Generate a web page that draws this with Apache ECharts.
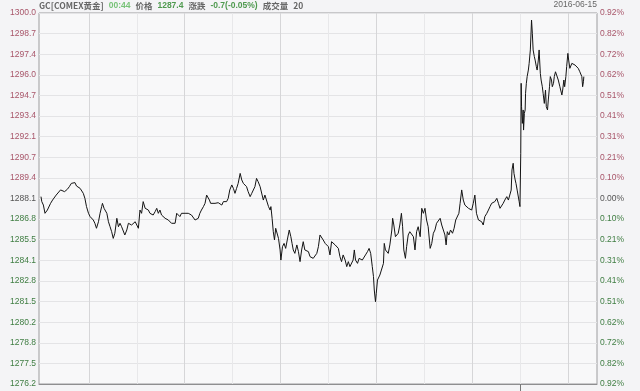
<!DOCTYPE html>
<html><head><meta charset="utf-8">
<script src="https://cdn.jsdelivr.net/npm/echarts@6/dist/echarts.min.js"></script>
<style>html,body{margin:0;padding:0;background:#f4f4f6;}#c{width:640px;height:391px;}</style>
</head><body><div id="c"></div>
<script>
// minutes since session open (06:00)
const times = [0,2,6,10,13,16,21,24,29,33,38,43,49,54,59,63,66,71,76,81,85,89,94,98,102,106,110,114,119,123,128,131,135,139,144,148,152,154,158,161,165,169,173,177,181,185,190,194,198,202,206,210,215,219,223,227,231,236,240,244,248,252,256,261,265,269,273,277,281,286,290,294,298,302,306,311,315,319,323,327,332,336,340,344,348,352,357,361,365,369,373,377,382,386,390,394,398,402,407,411,415,418,422,425,430,436,440,444,448,453,457,461,465,469,473,478,482,486,490,494,499,503,507,511,515,519,524,528,532,536,540,544,549,553,557,561,565,570,574,576,579,582,585,588,592,595,599,601,605,609,613,617,622,626,629,632,636,641,645,649,653,657,661,666,670,674,678,682,686,691,695,699,703,707,712,716,720,724,728,732,737,741,745,749,753,757,762,766,770,774,778,782,785,788,793,797,801,805,809,813,818,822,826,830,833,835,838,840,843,846,849,853,858,860,863,866,870,874,879,881,884,888,891,895,899,903,906,909,913,916,920,924,929,933,937,941,945,950,954,958,962,966,970,975,979,983,987,991,995,1000,1004,1008,1012,1015,1018,1022,1026,1031,1035,1039,1043,1047,1050,1054,1058,1062,1066,1071,1075,1079,1083,1087,1091,1096,1100,1104,1108,1112,1117,1121,1125,1129,1133,1137,1142,1146,1150,1154,1158,1162,1167,1171,1175,1178,1180,1183,1185,1188,1190,1193,1197,1198,1200,1202,1203,1204,1206,1208,1209,1211,1213,1214,1216,1218,1221,1223,1226,1228,1229,1231,1233,1236,1238,1241,1243,1246,1248,1251,1253,1256,1258,1261,1264,1266,1269,1271,1274,1276,1279,1281,1284,1286,1289,1292,1296,1300,1305,1307,1310,1312,1315,1317,1320,1322,1325,1330,1334,1338,1342,1346,1350,1355,1357,1359,1360];
const prices = [1288.22,1287.90,1287.68,1287.15,1287.04,1287.36,1287.47,1287.79,1288.00,1288.11,1288.32,1288.43,1288.65,1288.75,1288.54,1288.43,1288.69,1288.86,1289.07,1289.03,1289.12,1288.90,1288.86,1288.75,1288.65,1288.43,1288.11,1287.58,1287.15,1286.94,1286.83,1286.72,1286.51,1286.19,1286.61,1287.15,1287.58,1287.79,1287.47,1287.58,1287.15,1286.61,1286.29,1285.97,1285.54,1285.87,1286.83,1286.29,1286.51,1286.29,1286.19,1285.76,1286.08,1286.51,1286.61,1286.40,1286.29,1286.61,1286.40,1286.19,1287.36,1287.15,1287.90,1287.47,1287.58,1287.36,1287.15,1287.26,1287.04,1287.26,1287.47,1287.15,1287.36,1287.04,1286.94,1286.83,1286.76,1286.72,1286.61,1286.51,1286.40,1286.51,1287.15,1287.26,1286.94,1287.15,1287.04,1287.15,1287.26,1287.15,1287.19,1287.04,1286.94,1286.72,1286.61,1286.83,1287.15,1287.36,1287.58,1287.79,1288.32,1288.43,1288.00,1287.79,1287.90,1287.79,1287.90,1287.83,1287.79,1287.68,1287.90,1288.00,1287.90,1288.11,1288.65,1288.97,1288.75,1288.43,1288.75,1289.07,1289.71,1289.29,1289.07,1289.18,1288.86,1288.54,1288.22,1288.43,1288.54,1288.86,1289.39,1289.18,1288.86,1288.75,1288.00,1288.32,1288.22,1287.58,1287.36,1287.58,1286.83,1285.97,1285.44,1286.19,1286.08,1285.54,1284.80,1284.15,1285.01,1285.22,1284.90,1285.44,1286.08,1285.65,1285.22,1284.80,1284.58,1285.12,1284.69,1284.05,1284.80,1285.33,1284.80,1284.90,1284.69,1284.37,1284.48,1284.26,1284.37,1284.58,1285.01,1285.76,1285.65,1285.44,1285.22,1285.33,1285.01,1284.48,1285.33,1285.22,1285.12,1285.12,1284.90,1284.37,1284.05,1284.48,1284.15,1283.73,1284.05,1283.73,1283.83,1284.15,1284.80,1284.15,1283.94,1284.26,1284.37,1284.15,1284.26,1284.48,1284.69,1284.90,1284.58,1283.73,1283.09,1282.23,1281.48,1282.02,1282.87,1282.98,1283.19,1283.30,1283.94,1285.22,1284.80,1284.90,1284.58,1285.12,1286.08,1286.83,1286.40,1285.65,1285.76,1285.87,1286.40,1287.15,1286.29,1284.80,1284.26,1285.01,1285.76,1285.97,1286.08,1285.65,1284.80,1285.97,1286.29,1285.65,1287.47,1287.15,1287.47,1286.72,1286.29,1284.90,1285.22,1285.87,1286.08,1286.51,1286.61,1286.83,1286.40,1286.29,1285.76,1285.12,1285.97,1285.76,1286.08,1285.87,1286.19,1286.72,1286.83,1287.15,1287.79,1288.65,1288.00,1287.68,1287.79,1287.47,1287.58,1287.36,1287.79,1288.32,1287.15,1286.72,1286.83,1286.61,1286.40,1286.94,1287.15,1287.36,1287.58,1287.79,1287.68,1287.90,1288.11,1287.79,1287.47,1287.58,1287.79,1288.00,1288.22,1288.00,1288.11,1288.64,1289.93,1290.36,1289.71,1289.29,1289.07,1288.64,1288.54,1287.90,1287.58,1291.00,1295.49,1293.99,1292.92,1293.78,1292.49,1293.56,1293.78,1294.85,1295.49,1295.92,1296.34,1296.77,1297.63,1298.91,1299.55,1298.70,1297.63,1297.20,1296.98,1296.56,1296.34,1296.98,1297.63,1296.13,1295.70,1295.27,1294.85,1294.20,1295.06,1293.99,1293.78,1294.42,1295.27,1295.92,1295.70,1295.27,1295.49,1295.92,1296.23,1296.13,1295.70,1295.27,1294.74,1295.06,1295.70,1295.27,1295.92,1296.56,1297.41,1296.98,1296.45,1296.77,1296.77,1296.66,1296.56,1296.45,1296.23,1295.92,1295.27,1295.59,1295.92];
const leftLabels = ['1276.2','1277.5','1278.8','1280.2','1281.5','1282.8','1284.1','1285.5','1286.8','1288.1','1289.4','1290.7','1292.1','1293.4','1294.7','1296.0','1297.4','1298.7','1300.0'];
const rightLabels = ['0.92%','0.82%','0.72%','0.62%','0.51%','0.41%','0.31%','0.21%','0.10%','0.00%','0.10%','0.21%','0.31%','0.41%','0.51%','0.62%','0.72%','0.82%','0.92%'];
const majorTimes = [120,360,600,840,1080,1320];
const minorTimes = [240,480,720,960,1200];
const eventTimes = [1200];
const yMin = 1276.2, yMax = 1300.0;
const header = {name:'GC[COMEX黄金]', time:'00:44', priceLabel:'价格', price:'1287.4', chgLabel:'涨跌', chg:'-0.7(-0.05%)', volLabel:'成交量', vol:'20'};
const dateText = '2016-06-15';

const RED = '#a8566a', GREEN = '#3f7d42', GREY = '#555';
const step = (yMax - yMin) / (leftLabels.length - 1);
const idx = v => Math.round((v - yMin) / step);
const colorFor = i => i > 9 ? RED : (i < 9 ? GREEN : GREY);
const FONT = 'Liberation Sans';

const chart = echarts.init(document.getElementById('c'), null, {renderer:'canvas'});
const vLines = majorTimes.map(t => ({xAxis: t, lineStyle:{color:'#d6d6d8', width:1, type:'solid'}}))
  .concat(minorTimes.map(t => ({xAxis: t, lineStyle:{color:'#e8e8ea', width:1, type:'solid'}})));

chart.setOption({
  animation:false,
  backgroundColor:'#f4f4f6',
  title:[{
    left:39, top:1, padding:0,
    text:`{g|${header.name}}{s| }{t|${header.time}}{s| }{g|${header.priceLabel}}{s| }{p|${header.price}}{s| }{g|${header.chgLabel}}{s| }{p|${header.chg}}{s| }{g|${header.volLabel}}{s| }{g|${header.vol}}`,
    textStyle:{rich:{
      g:{color:'#666', fontSize:8.5, fontFamily:'Noto Sans CJK SC'},
      s:{fontSize:8.5, width:5},
      t:{color:'#77c277', fontSize:8.5, fontFamily:FONT},
      p:{color:'#4f9a4f', fontSize:8.5, fontFamily:FONT}
    }}
  },{
    right:43, top:0, padding:0,
    text:dateText,
    textStyle:{color:'#666', fontSize:8.5, fontWeight:'normal', fontFamily:FONT}
  }],
  grid:{left:39, right:43, top:13, bottom:7, show:true, backgroundColor:'#f8f8f9', borderColor:'#9c9c9e', borderWidth:1, containLabel:false},
  xAxis:{type:'value', min:-5, max:1393,
    axisLine:{show:true, lineStyle:{color:'#8e8e90'}},
    axisTick:{show:true, customValues:eventTimes, length:7, inside:false, lineStyle:{color:'#777'}},
    axisLabel:{show:false}, splitLine:{show:false}},
  yAxis:[{type:'value', min:yMin, max:yMax, interval:step, position:'left',
    axisLine:{show:false}, axisTick:{show:false},
    axisLabel:{margin:3, fontSize:8.5, fontFamily:FONT,
      formatter:(v)=>leftLabels[idx(v)],
      color:(v)=>colorFor(idx(v))},
    splitLine:{show:true, lineStyle:{color:'#e4e4e6', width:1}}
  },{type:'value', min:yMin, max:yMax, interval:step, position:'right',
    axisLine:{show:false}, axisTick:{show:false},
    axisLabel:{margin:3, fontSize:8.5, fontFamily:FONT,
      formatter:(v)=>rightLabels[idx(v)],
      color:(v)=>colorFor(idx(v))},
    splitLine:{show:false}
  }],
  series:[{
    type:'line', yAxisIndex:0, showSymbol:false, symbol:'none',
    data: times.map((t,i)=>[t, prices[i]]),
    lineStyle:{color:'#141414', width:1},
    markLine:{silent:true, symbol:['none','none'], label:{show:false}, data:vLines, z:1},
    z:5
  }]
});
</script></body></html>
